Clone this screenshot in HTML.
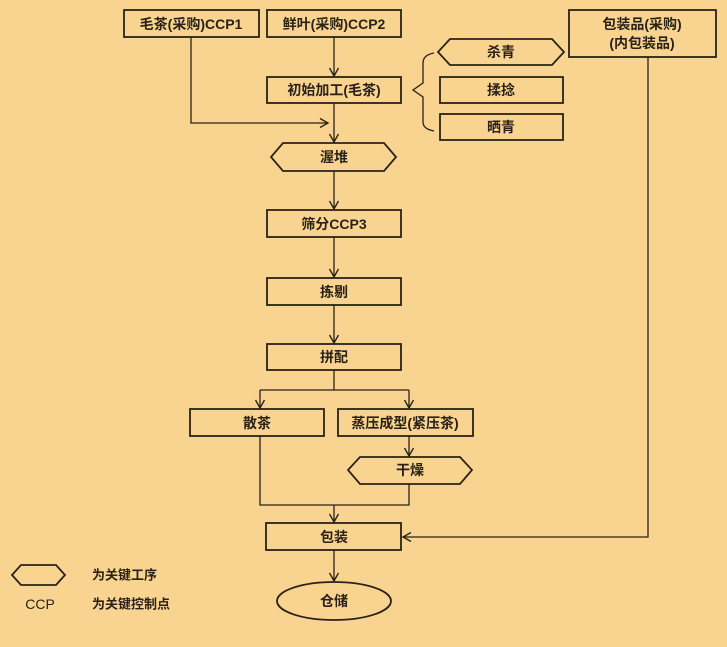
<!DOCTYPE html>
<html><head><meta charset="utf-8"><style>
html,body{margin:0;padding:0;background:#f9d490;}
svg{display:block;}
text{font-family:"Liberation Sans","Noto Sans CJK SC",sans-serif;font-size:14px;fill:#2a2218;text-anchor:middle;dominant-baseline:central;font-weight:bold;}
.b{fill:none;stroke:#2a2218;stroke-width:1.8;}
.l{fill:none;stroke:#2a2218;stroke-width:1.3;}
</style></head><body>
<svg width="727" height="647" viewBox="0 0 727 647" xmlns="http://www.w3.org/2000/svg">
<defs><marker id="a" markerWidth="12" markerHeight="12" refX="9" refY="6" orient="auto" markerUnits="userSpaceOnUse"><path d="M1,1.5 L9,6 L1,10.5" fill="none" stroke="#2a2218" stroke-width="1.4"/></marker></defs>
<rect width="727" height="647" fill="#f9d490"/>
<rect class="b" x="124" y="10" width="135" height="27"/><text x="191" y="24">毛茶(采购)CCP1</text>
<rect class="b" x="267" y="10" width="134" height="27"/><text x="334" y="24">鲜叶(采购)CCP2</text>
<rect class="b" x="569" y="10" width="147" height="47"/><text x="642" y="24">包装品(采购)</text><text x="642" y="43">(内包装品)</text>
<rect class="b" x="267" y="77" width="134" height="26"/><text x="334" y="90">初始加工(毛茶)</text>
<polygon class="b" points="450,39 552,39 564,52 552,65 450,65 438,52"/><text x="501" y="52">杀青</text>
<rect class="b" x="440" y="77" width="123" height="26"/><text x="501" y="90">揉捻</text>
<rect class="b" x="440" y="114" width="123" height="26"/><text x="501" y="127">晒青</text>
<path class="l" d="M434,53 Q423,55 423,63 L423,83 L413,90 L423,97 L423,122 Q423,129 434,131"/>
<polygon class="b" points="283,143 384,143 396,157 384,171 283,171 271,157"/><text x="334" y="157">渥堆</text>
<rect class="b" x="267" y="210" width="134" height="27"/><text x="334" y="224">筛分CCP3</text>
<rect class="b" x="267" y="278" width="134" height="27"/><text x="334" y="292">拣剔</text>
<rect class="b" x="267" y="344" width="134" height="26"/><text x="334" y="357">拼配</text>
<rect class="b" x="190" y="409" width="134" height="27"/><text x="257" y="423">散茶</text>
<rect class="b" x="338" y="409" width="135" height="27"/><text x="405" y="423">蒸压成型(紧压茶)</text>
<polygon class="b" points="360,457 460,457 472,470 460,484 360,484 348,470"/><text x="410" y="470">干燥</text>
<rect class="b" x="266" y="523" width="135" height="27"/><text x="334" y="537">包装</text>
<ellipse class="b" cx="334" cy="601" rx="57" ry="19"/><text x="334" y="601">仓储</text>
<path class="l" d="M334,37 V76" marker-end="url(#a)"/>
<path class="l" d="M191,37 V123 H328" marker-end="url(#a)"/>
<path class="l" d="M334,103 V142" marker-end="url(#a)"/>
<path class="l" d="M334,171 V209" marker-end="url(#a)"/>
<path class="l" d="M334,237 V277" marker-end="url(#a)"/>
<path class="l" d="M334,305 V343" marker-end="url(#a)"/>
<path class="l" d="M334,370 V390"/>
<path class="l" d="M260,390 H409"/>
<path class="l" d="M260,390 V408" marker-end="url(#a)"/>
<path class="l" d="M409,390 V408" marker-end="url(#a)"/>
<path class="l" d="M409,436 V456" marker-end="url(#a)"/>
<path class="l" d="M260,436 V505 H409 V484"/>
<path class="l" d="M334,505 V522" marker-end="url(#a)"/>
<path class="l" d="M648,57 V537 H403" marker-end="url(#a)"/>
<path class="l" d="M334,550 V581" marker-end="url(#a)"/>
<polygon class="b" points="21,565 56,565 65,575 56,585 21,585 12,575"/>
<text x="92" y="575" style="font-size:13px;text-anchor:start">为关键工序</text>
<text x="40" y="604" style="font-size:14px;font-weight:normal">CCP</text>
<text x="92" y="604" style="font-size:13px;text-anchor:start">为关键控制点</text>
</svg>
</body></html>
